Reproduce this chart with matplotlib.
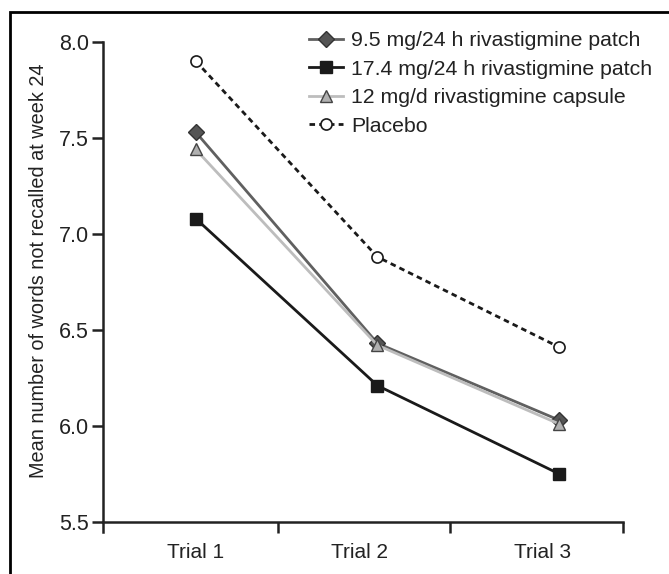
import matplotlib
matplotlib.use("Agg")
import matplotlib.pyplot as plt
from matplotlib.patches import Rectangle

plt.rcParams['font.family'] = ['Liberation Sans', 'DejaVu Sans']

trials = ['Trial 1', 'Trial 2', 'Trial 3']
patch_95 = [7.53, 6.43, 6.03]
patch_174 = [7.08, 6.21, 5.75]
capsule_12 = [7.44, 6.42, 6.01]
placebo = [7.90, 6.88, 6.41]

x = [0, 1, 2]

fig = plt.figure(figsize=(6.69, 5.74), dpi=100)
ax = fig.add_axes([0.154, 0.074, 0.777, 0.853])

# outer frame (cropped box)
fig.patches.append(Rectangle((10 / 669, -0.1), 1.2, 1.1 - 12 / 574,
                             transform=fig.transFigure, fill=False,
                             edgecolor='black', linewidth=2))

ax.plot(x, patch_95, color='#606060', lw=2, marker='D', ms=8,
        mfc='#555555', mec='#333333', mew=1, label='9.5 mg/24 h rivastigmine patch', zorder=4)
ax.plot(x, patch_174, color='#1a1a1a', lw=2, marker='s', ms=8,
        mfc='#1a1a1a', mec='#1a1a1a', label='17.4 mg/24 h rivastigmine patch', zorder=3)
ax.plot(x, capsule_12, color='#bdbdbd', lw=2, marker='^', ms=9,
        mfc='#b0b0b0', mec='#444444', mew=1, label='12 mg/d rivastigmine capsule', zorder=5)
ax.plot(x, placebo, color='#1a1a1a', lw=2, ls=(0, (2, 1.5)), marker='o', ms=8,
        mfc='white', mec='#1a1a1a', mew=1.2, label='Placebo', zorder=3)

ax.set_xlim(-0.51, 2.35)
ax.set_ylim(5.45, 8.0)
ax.spines['top'].set_visible(False)
ax.spines['right'].set_visible(False)
ax.spines['bottom'].set_position(('data', 5.5))
for s in ['left', 'bottom']:
    ax.spines[s].set_linewidth(1.8)
    ax.spines[s].set_color('#222222')

ax.set_yticks([5.5, 6.0, 6.5, 7.0, 7.5, 8.0])
ax.set_yticklabels(['5.5', '6.0', '6.5', '7.0', '7.5', '8.0'])
ax.tick_params(axis='y', length=8, width=1.8, color='#222222', labelsize=15.5,
               labelcolor='#222222', pad=2)

ax.set_xticks([0, 0.9, 1.91])
ax.set_xticklabels(trials)
ax.set_xticks([0.45, 1.40, 2.35], minor=True)
ax.tick_params(axis='x', which='major', length=0, labelsize=15,
               labelcolor='#222222', pad=15)
ax.tick_params(axis='x', which='minor', length=8, width=1.8, color='#222222')

ax.set_ylabel('Mean number of words not recalled at week 24', fontsize=14.3,
              color='#222222')
ax.yaxis.set_label_coords(-0.106, 0.532)

ax.legend(loc='upper left', bbox_to_anchor=(0.396, 1.022), frameon=False,
          fontsize=15.3, handlelength=1.6, handletextpad=0.4, labelspacing=0.45,
          borderpad=0, borderaxespad=0, labelcolor='#222222')

fig.savefig('out.png', dpi=100)
